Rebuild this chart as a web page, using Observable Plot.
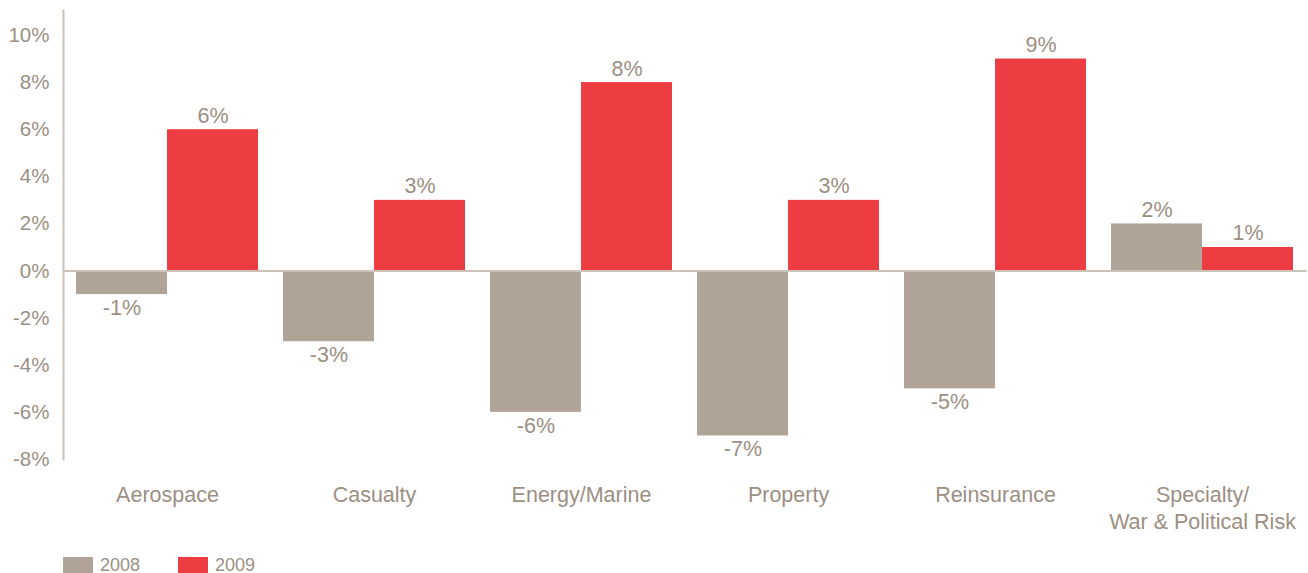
<!DOCTYPE html>
<html>
<head>
<meta charset="utf-8">
<script src="https://cdn.jsdelivr.net/npm/d3@7"></script>
<script src="https://cdn.jsdelivr.net/npm/@observablehq/plot@0.6"></script>
<style>
  body { margin: 0; background: #fff; font-family: "Liberation Sans", Arial, sans-serif; }
  #chart svg { display: block; }
  .legend { display: flex; align-items: center; height: 28px; padding-left: 63px; box-sizing: border-box; padding-top: 12px; color: #9c8f83; font-size: 18px; }
  .legend .sw { width: 30px; height: 17px; display: inline-block; margin-right: 7px; }
  .legend .item { display: flex; align-items: center; margin-right: 38px; }
</style>
</head>
<body>
<div id="chart"></div>
<div class="legend" id="legend"></div>
<script>
const categories = ["Aerospace", "Casualty", "Energy/Marine", "Property", "Reinsurance", "Specialty/\nWar & Political Risk"];
const years = ["2008", "2009"];
const values2008 = [-1, -3, -6, -7, -5, 2];
const values2009 = [6, 3, 8, 3, 9, 1];
const yTicks = [-8, -6, -4, -2, 0, 2, 4, 6, 8, 10];
const colors = ["#b0a498", "#ee3d42"];

const W = 1308, H = 545, mL = 63, mR = 1.4, mT = 10, mB = 86;
const pI = 0.1216, pO = 0.0608;
const step = (W - mL - mR) / (categories.length - pI + 2 * pO);
const half = step * (1 - pI) / 2;

const r08 = categories.map((c, i) => ({category: c, year: years[0], value: values2008[i]}));
const r09 = categories.map((c, i) => ({category: c, year: years[1], value: values2009[i]}));
const textColor = "#9c8f83";
const lineColor = "#cbc2b9";
const fmt = d => d.value + "%";
const vfs = 21.5;

const plot = Plot.plot({
  width: W, height: H,
  marginLeft: mL, marginRight: mR, marginTop: mT, marginBottom: mB,
  style: {fontFamily: "'Liberation Sans', Arial, sans-serif", fontSize: "20px", color: textColor, background: "#fff"},
  x: {domain: categories, paddingInner: pI, paddingOuter: pO, axis: null},
  y: {domain: [-8, 11.06], axis: null},
  marks: [
    Plot.barY(r08, {x: "category", y: "value", fill: colors[0], insetRight: half, insetLeft: 0}),
    Plot.barY(r09, {x: "category", y: "value", fill: colors[1], insetLeft: half, insetRight: 0}),
    Plot.ruleY([0], {stroke: lineColor, strokeWidth: 2}),
    Plot.frame({anchor: "left", stroke: lineColor, strokeWidth: 2}),
    Plot.axisY({ticks: yTicks, tickSize: 0, tickPadding: 14, tickFormat: d => d + "%", fontSize: 20.5, fill: textColor, label: null}),
    Plot.axisX({tickSize: 0, tickPadding: 23, fontSize: 21.5, fill: textColor, lineHeight: 1.27, label: null}),
    Plot.text(r08.filter(d => d.value >= 0), {x: "category", y: "value", text: fmt, dx: -half / 2, lineAnchor: "bottom", dy: -7, fill: textColor, fontSize: vfs}),
    Plot.text(r08.filter(d => d.value < 0), {x: "category", y: "value", text: fmt, dx: -half / 2, lineAnchor: "top", dy: 5, fill: textColor, fontSize: vfs}),
    Plot.text(r09.filter(d => d.value >= 0), {x: "category", y: "value", text: fmt, dx: half / 2, lineAnchor: "bottom", dy: -7, fill: textColor, fontSize: vfs}),
    Plot.text(r09.filter(d => d.value < 0), {x: "category", y: "value", text: fmt, dx: half / 2, lineAnchor: "top", dy: 5, fill: textColor, fontSize: vfs})
  ]
});
document.getElementById("chart").appendChild(plot);

const legend = document.getElementById("legend");
years.forEach((y, i) => {
  const item = document.createElement("div");
  item.className = "item";
  item.innerHTML = `<span class="sw" style="background:${colors[i]}"></span><span>${y}</span>`;
  legend.appendChild(item);
});
</script>
</body>
</html>
